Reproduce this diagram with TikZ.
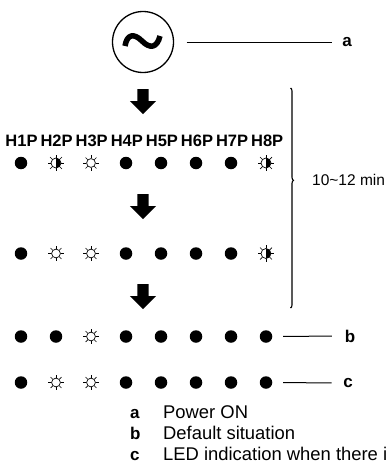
\documentclass[tikz,border=0pt]{standalone}
\usepackage{fontspec}
\setmainfont{Liberation Sans}
\usetikzlibrary{positioning,shapes.arrows,decorations.pathreplacing}

\tikzset{
  ledoff/.style={circle,fill=black,inner sep=0pt,minimum size=12.5pt},
  ledon/.style={circle,draw,line width=.7pt,inner sep=0pt,minimum size=8.8pt},
  ledhalf/.style={ledon,minimum size=10pt,
    path picture={\fill (path picture bounding box.north) rectangle (path picture bounding box.south east);}},
  ray/.style={line width=.7pt},
  bigarrow/.style={single arrow,fill=black,rotate=-90,inner sep=5.5pt,
    minimum height=25pt,single arrow head extend=7.5pt,anchor=tail},
  hlabel/.style={font=\fontsize{16.5}{18}\selectfont\bfseries,inner sep=0pt},
  tag/.style={font=\fontsize{17}{20}\selectfont\bfseries,inner sep=0pt},
  legend/.style={font=\fontsize{18.4}{21}\selectfont,anchor=base west,inner sep=0pt},
  lead/.style={line width=1pt},
}
\newcommand{\sunrays}[1]{\foreach \a in {0,45,...,315} {\draw[ray] (#1.\a) -- ++(\a:3pt);}}

\begin{document}
\begin{tikzpicture}[x=1pt,y=-1pt]
  \useasboundingbox (0,0) rectangle (387,463);
  \clip (0,0) rectangle (387,463);

  % power on
  \node[circle,draw,line width=1.3pt,minimum size=61pt,inner sep=0pt] (pwr) at (143,42) {};
  \draw[line width=5.5pt] (125,46) .. controls (127,34) and (134,33) .. (142,41)
    .. controls (150,49) and (157,48) .. (160,36);
  \node[tag] (ta) at (347,42) {a};
  \draw[lead,shorten <=12.5pt,shorten >=10.5pt] (pwr) -- (ta);

  \node[bigarrow] (ar1) at (143,89) {};

  % LED names
  \foreach \i in {1,...,8}
    \node[hlabel] (h\i) at ({21.5+35.1*(\i-1)},141) {H\i P};

  % LED rows
  \foreach \s [count=\i] in {off,half,on,off,off,off,off,half}
    \node[led\s] (ra\i) at ({21+35*(\i-1)},163) {};
  \foreach \i in {2,3,8} {\sunrays{ra\i}}

  \node[bigarrow] (ar2) at (143,194) {};

  \foreach \s [count=\i] in {off,on,on,off,off,off,off,half}
    \node[led\s] (rb\i) at ({21+35*(\i-1)},253.5) {};
  \foreach \i in {2,3,8} {\sunrays{rb\i}}

  \node[bigarrow] (ar3) at (143,284) {};

  \foreach \s [count=\i] in {off,off,on,off,off,off,off,off}
    \node[led\s] (rc\i) at ({21+35*(\i-1)},336.5) {};
  \sunrays{rc3}

  \foreach \s [count=\i] in {off,on,on,off,off,off,off,off}
    \node[led\s] (rd\i) at ({21+35*(\i-1)},382.5) {};
  \foreach \i in {2,3} {\sunrays{rd\i}}

  % time bracket
  \coordinate (bt) at (290.5,88);
  \coordinate (bb) at (290.5,308);
  \draw[line width=1.1pt,decorate,decoration={brace,amplitude=3pt,aspect=0.42}] (bt) -- (bb);
  \node[font=\fontsize{15.5}{18}\selectfont,anchor=west,inner sep=0pt] (tm) at (312,180) {10\textasciitilde12 min};

  % b and c
  \node[tag] (tb) at (350,336) {b};
  \draw[lead,shorten <=10.7pt,shorten >=12.8pt] (rc8) -- (tb);
  \node[tag] (tc) at (348,383) {c};
  \draw[lead,shorten <=10.7pt,shorten >=11.5pt] (rd8) -- (tc);

  % legend
  \node[legend,font=\fontsize{17}{20}\selectfont\bfseries] (ka) at (130,418) {a};
  \node[legend] (la) at (163,418) {Power ON};
  \node[legend,font=\fontsize{17}{20}\selectfont\bfseries] (kb) at (130,439.5) {b};
  \node[legend] (lb) at (163,439.5) {Default situation};
  \node[legend,font=\fontsize{17}{20}\selectfont\bfseries] (kc) at (130,460.5) {c};
  \node[legend] (lc) at (163,460.5) {LED indication when there is};
\end{tikzpicture}
\end{document}
